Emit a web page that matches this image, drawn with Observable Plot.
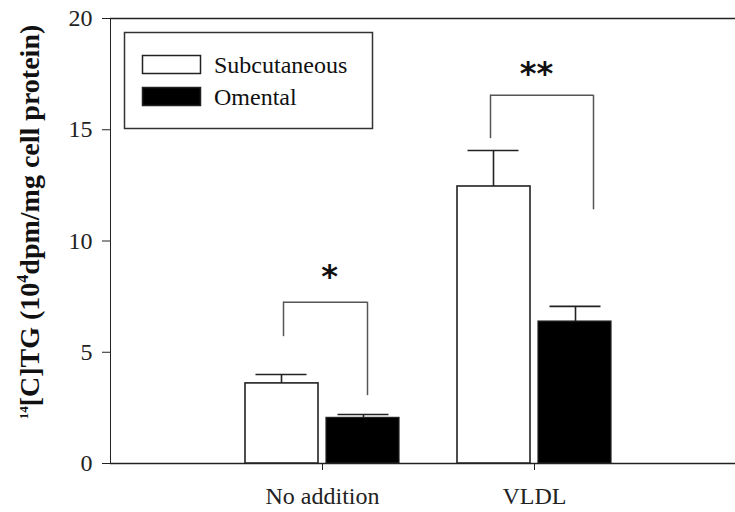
<!DOCTYPE html>
<html><head><meta charset="utf-8">
<script src="https://cdn.jsdelivr.net/npm/d3@7"></script>
<script src="https://cdn.jsdelivr.net/npm/@observablehq/plot@0.6"></script>
<style>
body{margin:0;background:#fff;}
#wrap{position:relative;width:735px;height:512px;}
</style></head><body><div id="wrap"></div>
<script>
const groups = ["No addition", "VLDL"];
const series = ["Subcutaneous", "Omental"];
const subcutaneous = [3.6, 12.45];
const subcutaneousErr = [0.4, 1.62];
const omental = [2.05, 6.38];
const omentalErr = [0.15, 0.68];
const bracketTop = [7.25, 16.55];
const bracketLeftEnd = [5.7, 14.6];
const bracketRightEnd = [3.05, 11.4];
const sigLabels = ["*", "**"];
const sigY = [8.5, 17.6];
const yTicks = [0, 5, 10, 15, 20];

const sub = groups.map((g, i) => ({group: g, value: subcutaneous[i], top: subcutaneous[i] + subcutaneousErr[i]}));
const om = groups.map((g, i) => ({group: g, value: omental[i], top: omental[i] + omentalErr[i]}));
const br = groups.map((g, i) => ({group: g, top: bracketTop[i], left: bracketLeftEnd[i], right: bracketRightEnd[i], label: sigLabels[i], ly: sigY[i]}));

const ink = "#222";
const gray = "#555";
const bracketMarks = (d, dxL, dxR, dxT) => [
  Plot.ruleX([d], {x: "group", y1: "left", y2: "top", dx: dxL, stroke: gray, strokeWidth: 1.5}),
  Plot.ruleX([d], {x: "group", y1: "right", y2: "top", dx: dxR, stroke: gray, strokeWidth: 1.5}),
  Plot.tickY([d], {x: "group", y: "top", insetLeft: 106 + dxL, insetRight: 106 - dxR, stroke: gray, strokeWidth: 1.5}),
  Plot.text([d], {x: "group", y: "ly", text: "label", dx: dxT, dy: 2, fontSize: 32, fontWeight: "bold", fontFamily: "DejaVu Sans", fill: "#111"})
];

const chart = Plot.plot({
  width: 735,
  height: 512,
  marginLeft: 110,
  marginRight: 0,
  marginTop: 18,
  marginBottom: 49,
  style: {fontFamily: "Liberation Serif", fontSize: "24px", color: ink, background: "white"},
  x: {domain: groups, range: [216, 640], padding: 0, tickSize: 7, tickPadding: 16, label: null},
  y: {domain: [0, 20], ticks: yTicks, tickSize: 8, tickPadding: 10, line: true, label: null},
  marks: [
    Plot.ruleY([0, 20], {stroke: ink, strokeWidth: 1.5}),
    Plot.barY(sub, {x: "group", y: "value", fill: "white", stroke: ink, strokeWidth: 1.6, insetLeft: 29, insetRight: 110}),
    Plot.barY(om, {x: "group", y: "value", fill: "black", stroke: ink, strokeWidth: 1.2, insetLeft: 110, insetRight: 29}),
    Plot.ruleX(sub, {x: "group", y1: "value", y2: "top", dx: -41, stroke: ink, strokeWidth: 1.6}),
    Plot.ruleX(om, {x: "group", y1: "value", y2: "top", dx: 41, stroke: ink, strokeWidth: 1.6}),
    Plot.tickY(sub, {x: "group", y: "top", insetLeft: 39.5, insetRight: 121.5, stroke: ink, strokeWidth: 1.6}),
    Plot.tickY(om, {x: "group", y: "top", insetLeft: 121.5, insetRight: 39.5, stroke: ink, strokeWidth: 1.6}),
    ...bracketMarks(br[0], -39, 45, 7),
    ...bracketMarks(br[1], -44, 59, 2)
  ]
});
document.getElementById("wrap").appendChild(chart);

const svg = d3.select(chart);
// y-axis title with superscripts
const t = svg.append("text")
  .attr("transform", "translate(39,222) rotate(-90)")
  .attr("text-anchor", "middle")
  .attr("fill", "#111")
  .style("font-family", "Liberation Serif")
  .style("font-weight", "bold")
  .style("font-size", "28px");
t.append("tspan").attr("font-size", "13px").attr("dy", "-11").text("14");
t.append("tspan").attr("dy", "11").text("[C]TG (10");
t.append("tspan").attr("font-size", "16px").attr("dy", "-11").text("4");
t.append("tspan").attr("dy", "11").text("dpm/mg cell protein)");

// legend
const lg = svg.append("g").attr("text-anchor", "start");
lg.append("rect").attr("x", 124.5).attr("y", 32.5).attr("width", 248).attr("height", 96)
  .attr("fill", "white").attr("stroke", "#333").attr("stroke-width", 1.5);
const fills = ["white", "black"];
series.forEach((s, i) => {
  lg.append("rect").attr("x", 142.5).attr("y", 55.5 + i * 32).attr("width", 58).attr("height", 18)
    .attr("fill", fills[i]).attr("stroke", "#222").attr("stroke-width", 1.5);
  lg.append("text").attr("x", 214).attr("y", 73 + i * 32).attr("text-anchor", "start")
    .style("font-family", "Liberation Serif").style("font-size", "24px").attr("fill", "#111").text(s);
});
</script>
</body></html>
